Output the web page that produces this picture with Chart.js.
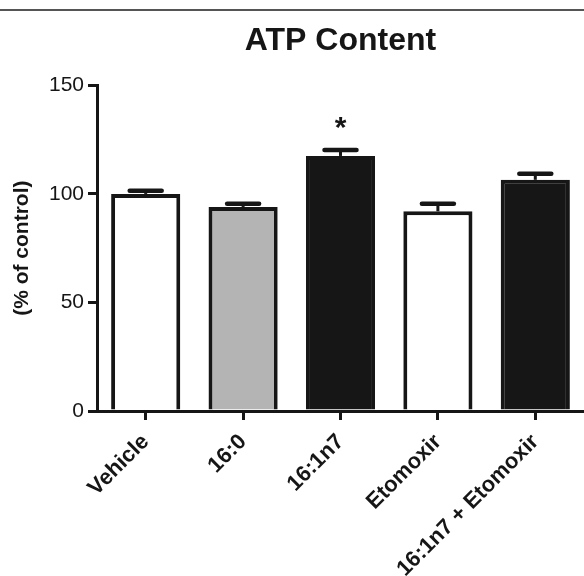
<!DOCTYPE html>
<html><head><meta charset="utf-8">
<script src="https://cdn.jsdelivr.net/npm/chart.js@4"></script>
<style>html,body{margin:0;padding:0;background:#fff}#wrap{width:584px;height:576px;position:relative}</style>
</head><body><div id="wrap"><canvas id="c" width="584" height="576"></canvas></div>
<script>
const categories = ["Vehicle", "16:0", "16:1n7", "Etomoxir", "16:1n7 + Etomoxir"];
const values = [100, 94, 117.5, 92, 106.5];
const errors = [1.5, 1.5, 2.7, 3.5, 2.8];
const significance = ["", "", "*", "", ""];
const yTicks = [0, 50, 100, 150];

const fills = ["#ffffff", "#b4b4b4", "#161616", "#ffffff", "#161616"];
const INK = "#161616";
const FONT = "'Liberation Sans', Arial, Helvetica, sans-serif";

const extras = {
  id: "extras",
  beforeDraw(chart) {
    const ctx = chart.ctx;
    ctx.save();
    ctx.strokeStyle = "#555";
    ctx.lineWidth = 2;
    ctx.beginPath();
    ctx.moveTo(0, 10);
    ctx.lineTo(chart.width, 10);
    ctx.stroke();
    ctx.restore();
  },
  afterDatasetsDraw(chart) {
    const ctx = chart.ctx;
    const y = chart.scales.y;
    const meta = chart.getDatasetMeta(0);
    ctx.save();
    ctx.strokeStyle = INK;
    ctx.fillStyle = INK;
    meta.data.forEach((el, i) => {
      const top = y.getPixelForValue(values[i]);
      const cap = y.getPixelForValue(values[i] + errors[i]);
      ctx.lineCap = "butt";
      ctx.lineWidth = 3;
      ctx.beginPath();
      ctx.moveTo(el.x, top);
      ctx.lineTo(el.x, cap);
      ctx.stroke();
      ctx.lineCap = "round";
      ctx.lineWidth = 4.5;
      ctx.beginPath();
      ctx.moveTo(el.x - 16, cap);
      ctx.lineTo(el.x + 16, cap);
      ctx.stroke();
      if (significance[i]) {
        ctx.font = "bold 30px " + FONT;
        ctx.textAlign = "center";
        ctx.textBaseline = "alphabetic";
        ctx.fillText(significance[i], el.x, cap - 13);
      }
    });
    ctx.restore();
  }
};

new Chart(document.getElementById("c"), {
  type: "bar",
  data: {
    labels: categories,
    datasets: [{
      data: values,
      backgroundColor: fills,
      borderColor: INK,
      borderWidth: 4,
      barPercentage: 0.71,
      categoryPercentage: 1.0
    }]
  },
  options: {
    responsive: false,
    devicePixelRatio: 1,
    animation: false,
    layout: { padding: { left: 0, right: 0, top: 0, bottom: 0 } },
    plugins: {
      legend: { display: false },
      tooltip: { enabled: false },
      title: {
        display: true,
        text: "ATP Content",
        fullSize: false,
        color: INK,
        font: { family: FONT, size: 32, weight: "bold" },
        padding: { top: 22, bottom: 25 }
      }
    },
    scales: {
      x: {
        offset: true,
        grid: { display: true, drawOnChartArea: false, offset: false, drawTicks: true, tickLength: 9, lineWidth: 3, color: INK },
        border: { display: true, width: 3, color: INK },
        ticks: {
          autoSkip: false, maxRotation: 45, minRotation: 45, padding: 9,
          color: INK, font: { family: FONT, size: 22, weight: "bold" }
        },
        afterFit(s) { s.height = 165; }
      },
      y: {
        min: 0, max: 150,
        afterBuildTicks(s) { s.ticks = yTicks.map(v => ({ value: v })); },
        grid: { display: true, drawOnChartArea: false, drawTicks: true, tickLength: 9, lineWidth: 3, color: INK },
        border: { display: true, width: 3, color: INK },
        ticks: { color: INK, padding: 4, font: { family: FONT, size: 21 } },
        title: {
          display: true, text: "(% of control)", color: INK,
          font: { family: FONT, size: 21, weight: "bold" }, padding: { top: 10, bottom: 0 }
        },
        afterFit(s) { s.width = 97; }
      }
    }
  },
  plugins: [extras]
});
</script>
</body></html>
